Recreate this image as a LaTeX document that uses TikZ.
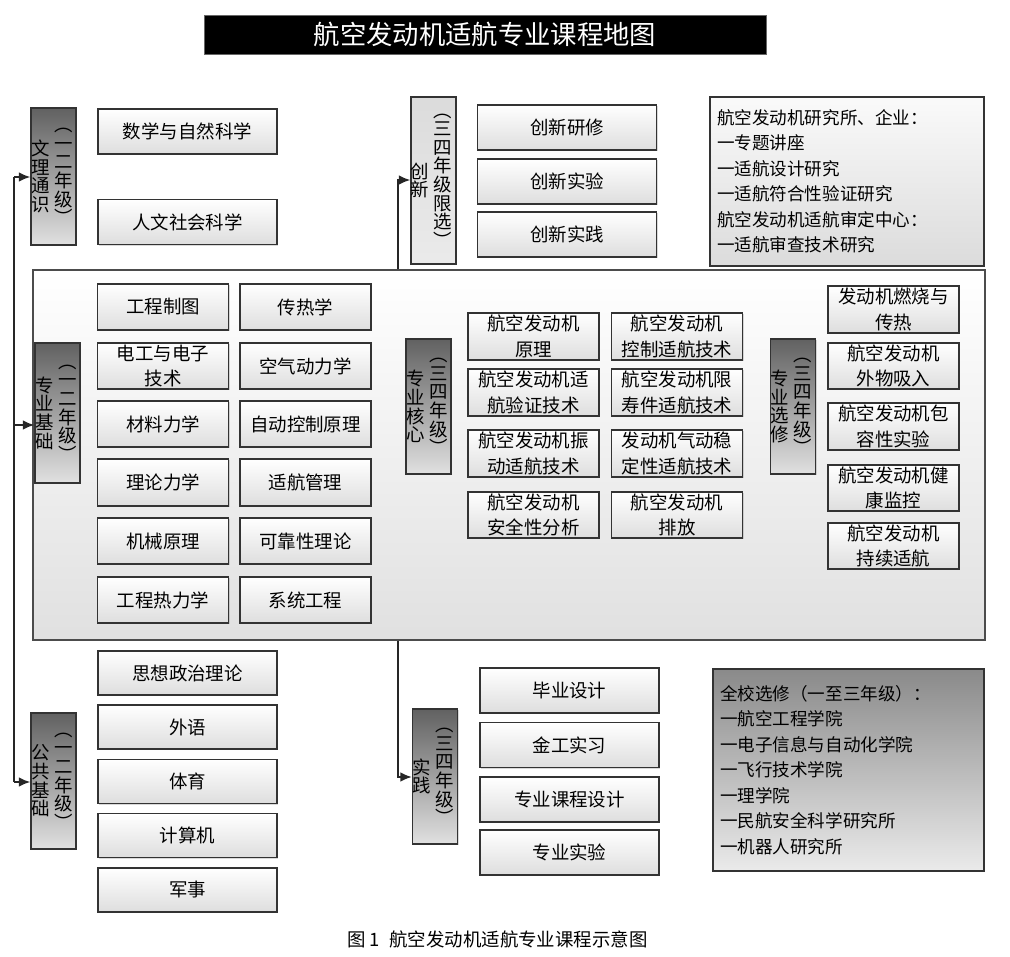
\documentclass[tikz,border=0pt]{standalone}
\usepackage{fontspec}
\setmainfont{Noto Sans CJK SC}
\usetikzlibrary{arrows.meta,shadows}
\tikzset{
  course/.style={
    draw=black!80,
    line width=0.9pt,
    top color=white,
    bottom color=black!13,
    drop shadow={shadow xshift=0.7pt,shadow yshift=-0.7pt,opacity=0.3},
    minimum width=2.62cm,
    minimum height=0.93cm,
    inner sep=0.5pt,
    align=center,
    font=\fontsize{10.5}{14.5}\selectfont
  },
  longcourse/.style={
    course,
    minimum width=3.58cm,
    minimum height=0.9cm
  },
  catbox/.style={
    draw=black!80,
    line width=0.9pt,
    top color=black!62,
    bottom color=black!12,
    drop shadow={shadow xshift=0.7pt,shadow yshift=-0.7pt,opacity=0.3},
    minimum width=0.9cm,
    inner sep=0pt
  },
  vcol/.style={
    font=\fontsize{10.5}{10.6}\selectfont,
    align=center,
    inner sep=0pt
  },
  bigbox/.style={
    draw=black!70,
    line width=0.7pt,
    top color=white,
    bottom color=black!12,
    minimum width=19.04cm,
    minimum height=7.4cm
  },
  infobox/.style={
    draw=black!80,
    line width=0.9pt,
    align=left,
    inner xsep=0.14cm,
    font=\fontsize{10}{14.5}\selectfont
  },
  titlebar/.style={
    fill=black,
    draw=black!60,
    text=white,
    minimum width=11.24cm,
    minimum height=0.78cm,
    font=\fontsize{15}{18}\selectfont
  },
  bus/.style={line width=0.9pt, draw=black!85},
  arrow/.style={bus, -{Latex[length=6.5pt,width=5.5pt]}}
}

\begin{document}
\begin{tikzpicture}[x=0.02cm,y=-0.02cm]
  \useasboundingbox (0,0) rectangle (1010,956);
  \node[titlebar] (title) at (485,34.5) {航空发动机适航专业课程地图};

  % core area
  \node[bigbox] (core) at (509,455) {};

  % category labels
  \foreach \n/\x/\y/\h/\ta/\tb in {
      wl/53.5/176.5/2.74/{文\\理\\通\\识}/{︵\\一\\二\\年\\级\\︶},
      jc/57.5/413/2.8/{专\\业\\基\\础}/{︵\\一\\二\\年\\级\\︶},
      hx/428.5/406.5/2.7/{专\\业\\核\\心}/{︵\\三\\四\\年\\级\\︶},
      xx/793/406.5/2.7/{专\\业\\选\\修}/{︵\\三\\四\\年\\级\\︶},
      gg/53.5/781/2.72/{公\\共\\基\\础}/{︵\\一\\二\\年\\级\\︶},
      sj/435/776.5/2.7/{实\\践}/{︵\\三\\四\\年\\级\\︶}}{
    \node[catbox,minimum height=\h cm] (\n) at (\x,\y) {};
    \node[vcol] (\n-a) at ([xshift=-0.26cm]\n.center) {\ta};
    \node[vcol] (\n-b) at ([xshift=0.2cm]\n.center) {\tb};
  }
  \node[catbox,top color=black!14,bottom color=black!8,minimum height=3.34cm] (cx) at (433.5,180.5) {};
  \node[vcol] (cx-a) at ([xshift=-0.27cm]cx.center) {创\\新};
  \node[vcol] (cx-b) at ([xshift=0.19cm]cx.center) {︵\\三\\四\\年\\级\\限\\选\\︶};

  % courses
  \foreach \i/\y/\txt in {1/131.5/数学与自然科学,2/222/人文社会科学}
    \node[longcourse] (wl\i) at (187.5,\y) {\txt};
  \foreach \i/\y/\txt in {1/127.5/创新研修,2/181.5/创新实验,3/234.5/创新实践}
    \node[longcourse] (cx\i) at (567,\y) {\txt};
  \foreach \i/\y/\ta/\tb in {1/307/工程制图/传热学,2/366/{电工与电子\\技术}/空气动力学,
      3/424/材料力学/自动控制原理,4/482.5/理论力学/适航管理,
      5/541/机械原理/可靠性理论,6/600/工程热力学/系统工程}{
    \node[course] (jcA\i) at (163,\y) {\ta};
    \node[course] (jcB\i) at (305.5,\y) {\tb};
  }
  \foreach \i/\y/\ta/\tb in {1/336.5/{航空发动机\\原理}/{航空发动机\\控制适航技术},
      2/392.5/{航空发动机适\\航验证技术}/{航空发动机限\\寿件适航技术},
      3/453.5/{航空发动机振\\动适航技术}/{发动机气动稳\\定性适航技术},
      4/515/{航空发动机\\安全性分析}/{航空发动机\\排放}}{
    \node[course] (hxA\i) at (533.5,\y) {\ta};
    \node[course] (hxB\i) at (677,\y) {\tb};
  }
  \foreach \i/\y/\txt in {1/309.5/{发动机燃烧与\\传热},2/366/{航空发动机\\外物吸入},
      3/426.5/{航空发动机包\\容性实验},4/488/{航空发动机健\\康监控},5/546/{航空发动机\\持续适航}}
    \node[course] (xx\i) at (893.5,\y) {\txt};
  \foreach \i/\y/\txt in {1/673/思想政治理论,2/727/外语,3/781.5/体育,4/835.5/计算机,5/890/军事}
    \node[longcourse,minimum height=0.88cm] (gg\i) at (187.5,\y) {\txt};
  \foreach \i/\y/\txt in {1/690.5/毕业设计,2/745/金工实习,3/799.5/专业课程设计,4/852.5/专业实验}
    \node[longcourse] (sj\i) at (569.5,\y) {\txt};

  % info boxes
  \node[infobox,top color=black!2,bottom color=black!14,text width=5.2cm,minimum height=3.38cm] (inst) at (847,181.5)
    {航空发动机研究所、企业：\\一专题讲座\\一适航设计研究\\一适航符合性验证研究\\航空发动机适航审定中心：\\一适航审查技术研究};
  \node[infobox,top color=black!46,bottom color=black!8,text width=5.14cm,minimum height=4.04cm] (elec) at (848.5,770)
    {全校选修（一至三年级）：\\一航空工程学院\\一电子信息与自动化学院\\一飞行技术学院\\一理学院\\一民航安全科学研究所\\一机器人研究所};

  % connectors
  \coordinate (bus1) at (14,177);
  \coordinate (bus2) at (14,425);
  \coordinate (bus3) at (14,782);
  \draw[bus] (bus1) -- (bus3);
  \draw[arrow] (bus1) -- (bus1 -| wl.west);
  \draw[arrow] (bus2) -- (bus2 -| jc.west);
  \draw[arrow] (bus3) -- (bus3 -| gg.west);
  \coordinate (up) at (398,180);
  \coordinate (down) at (398,777);
  \draw[arrow] (up |- core.north) -- (up) -- (up -| cx.west);
  \draw[arrow] (down |- core.south) -- (down) -- (down -| sj.west);

  \node[font=\fontsize{10.5}{12}\selectfont] (caption) at (497.5,939) {图 1\enspace 航空发动机适航专业课程示意图};
\end{tikzpicture}
\end{document}
